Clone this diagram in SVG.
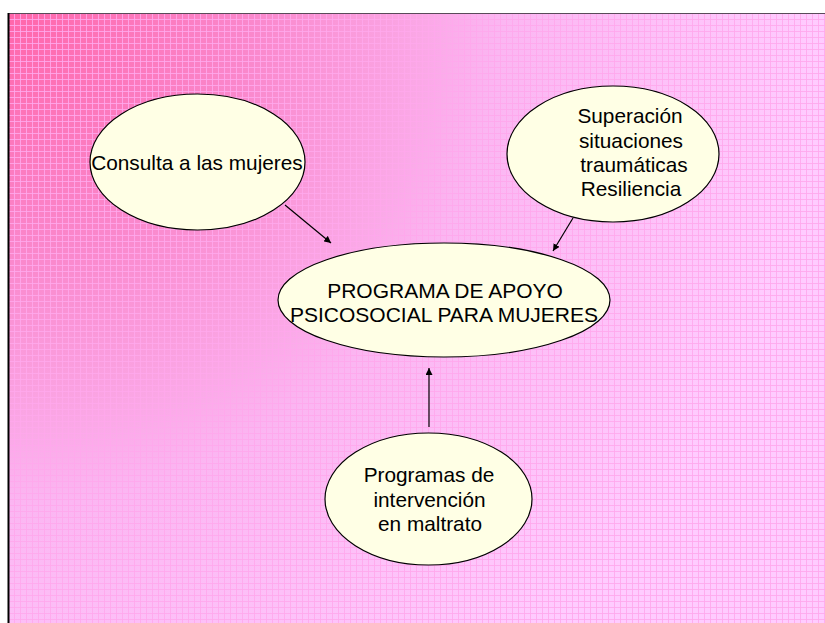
<svg xmlns="http://www.w3.org/2000/svg" width="825" height="623" viewBox="0 0 825 623">
  <style>
    .node ellipse { fill: #FFFFE5; stroke: #000; stroke-width: 1.2; }
    .node text { font-family: "Liberation Sans", Arial, sans-serif; font-size: 20.8px; fill: #000; text-anchor: middle; }
    .conn line { stroke: #000; stroke-width: 1.2; marker-end: url(#arrow); }
  </style>
  <defs>
    <radialGradient id="bg" gradientUnits="userSpaceOnUse" cx="8" cy="13" r="820">
      <stop offset="0" stop-color="#FF66AA"/>
      <stop offset="0.3" stop-color="#FA88CC"/>
      <stop offset="0.6" stop-color="#FBB6F2"/>
      <stop offset="1" stop-color="#FFCCFF"/>
    </radialGradient>
    <pattern id="grid" patternUnits="userSpaceOnUse" x="8" y="13" width="6" height="6">
      <path d="M0 0.5H6M0.5 0V6" stroke="#FFA8EC" stroke-width="1" opacity="0.85" fill="none"/>
    </pattern>
    <marker id="arrow" viewBox="0 0 10 10" refX="10" refY="5" markerWidth="7" markerHeight="7" markerUnits="userSpaceOnUse" orient="auto">
      <path d="M0 0L10 5L0 10z" fill="#000"/>
    </marker>
  </defs>
  <rect x="0" y="0" width="825" height="623" fill="#FFFFFF"/>
  <rect x="8" y="13" width="817" height="610" fill="url(#bg)"/>
  <rect x="8" y="13" width="817" height="610" fill="url(#grid)"/>
  <line x1="8" y1="13.5" x2="825" y2="13.5" stroke="#5a4a5a" stroke-width="1.2"/>
  <line x1="8.5" y1="13" x2="8.5" y2="623" stroke="#000" stroke-width="2"/>

  <g class="conn" id="connectors">
    <line x1="285" y1="205" x2="331" y2="243"/>
    <line x1="573" y1="218" x2="553" y2="251"/>
    <line x1="429" y1="427" x2="429" y2="368"/>
  </g>

  <g class="node" id="consulta">
    <ellipse cx="197.5" cy="162" rx="107.5" ry="68"/>
    <text x="197" y="170">Consulta a las mujeres</text>
  </g>

  <g class="node" id="superacion">
    <ellipse cx="613" cy="154" rx="106" ry="68"/>
    <text x="630" y="123">Superación</text>
    <text x="631" y="148">situaciones</text>
    <text x="634" y="172">traumáticas</text>
    <text x="631" y="196">Resiliencia</text>
  </g>

  <g class="node" id="programa">
    <ellipse cx="444" cy="300" rx="166" ry="57"/>
    <text x="445" y="298" style="font-size:21px">PROGRAMA DE APOYO</text>
    <text x="444" y="322" style="font-size:21px">PSICOSOCIAL PARA MUJERES</text>
  </g>

  <g class="node" id="intervencion">
    <ellipse cx="428.5" cy="499" rx="103.5" ry="66"/>
    <text x="429" y="482">Programas de</text>
    <text x="429.5" y="507">intervención</text>
    <text x="430" y="531"> en maltrato</text>
  </g>
</svg>
